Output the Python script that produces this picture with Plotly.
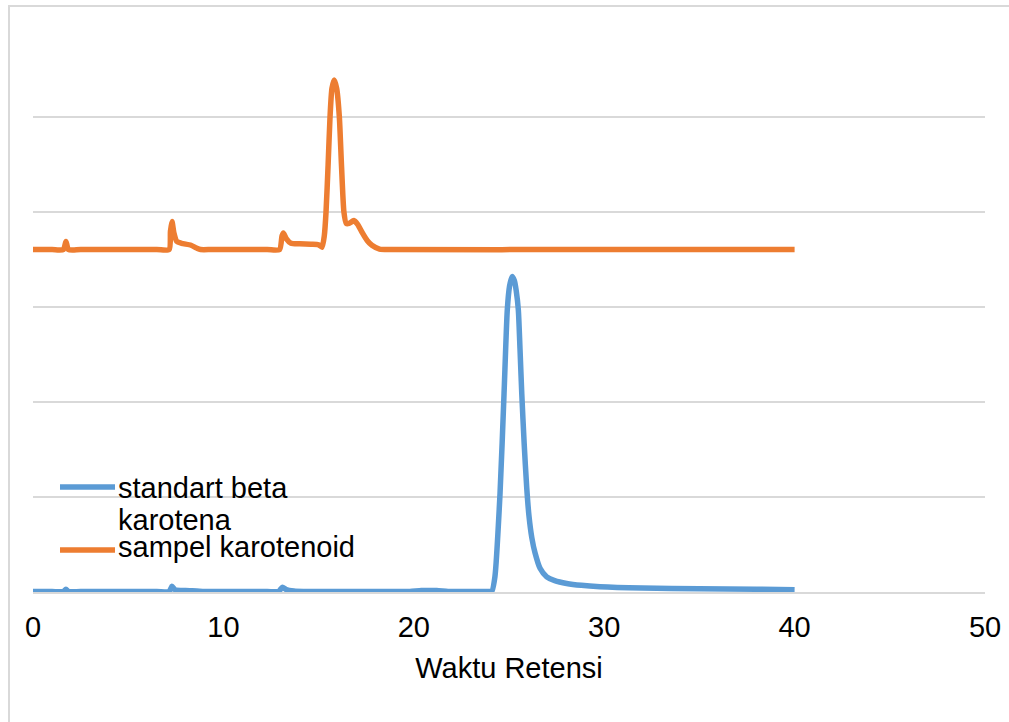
import plotly.graph_objects as go

# Retention time (minutes) and detector response (relative units)
t_std = [0, 1.0, 1.6, 1.73, 1.86, 2.5, 6.5, 7.15, 7.3, 7.45, 8.0, 8.6, 9.0, 9.6, 12.3, 12.9,
         13.1, 13.3, 13.7, 14.2, 14.8, 19.2, 19.8, 20.4, 21.2, 21.8, 22.4, 23.5, 24.0, 24.09,
         24.26, 24.53, 24.74, 24.91, 25.03, 25.16, 25.28, 25.38, 25.49, 25.58, 25.67, 25.8,
         25.93, 26.05, 26.2, 26.37, 26.63, 26.98, 27.4, 28.03, 28.8, 29.78, 32.0, 35.0, 38.0,
         40.0]
v_std = [0.005, 0.005, 0.005, 0.03, 0.005, 0.005, 0.005, 0.005, 0.06, 0.025, 0.015, 0.01,
         0.005, 0.005, 0.005, 0.005, 0.05, 0.025, 0.01, 0.005, 0.005, 0.005, 0.005, 0.015,
         0.015, 0.005, 0.005, 0.005, 0.005, 0.005, 0.16, 1.04, 2.09, 2.97, 3.22, 3.32, 3.28,
         3.17, 2.97, 2.55, 2.09, 1.55, 1.1, 0.8, 0.57, 0.41, 0.25, 0.16, 0.12, 0.09, 0.07,
         0.056, 0.042, 0.035, 0.03, 0.025]

t_smp = [0, 1.0, 1.6, 1.73, 1.86, 2.5, 6.5, 7.15, 7.22, 7.3, 7.4, 7.55, 7.8, 8.3, 8.6, 8.8,
         9.4, 12.3, 12.95, 13.08, 13.15, 13.3, 13.55, 14.0, 14.6, 15.0, 15.18, 15.3, 15.39,
         15.5, 15.6, 15.7, 15.82, 15.95, 16.09, 16.2, 16.33, 16.45, 16.6, 16.85, 17.05, 17.3,
         17.55, 17.8, 18.2, 18.8, 30.0, 40.0]
v_smp = [3.605, 3.605, 3.605, 3.69, 3.605, 3.605, 3.605, 3.605, 3.8, 3.9, 3.78, 3.69, 3.67,
         3.65, 3.62, 3.605, 3.605, 3.605, 3.605, 3.75, 3.78, 3.72, 3.67, 3.665, 3.66, 3.655,
         3.63, 3.75, 4.0, 4.5, 5.0, 5.3, 5.39, 5.3, 5.0, 4.5, 4.0, 3.88, 3.88, 3.91, 3.87,
         3.78, 3.7, 3.65, 3.61, 3.605, 3.605, 3.605]

series_names = ["standart beta<br>karotena", "sampel karotenoid"]
colors = ["#5B9BD5", "#ED7D31"]
x_ticks = [0, 10, 20, 30, 40, 50]

FONT = "Liberation Sans, Arial, sans-serif"
FS = 29
LW = 5.5

fig = go.Figure()
fig.add_trace(go.Scatter(x=t_std, y=v_std, mode="lines", name=series_names[0],
                         line=dict(color=colors[0], width=LW, shape="spline", smoothing=0.6),
                         showlegend=False))
fig.add_trace(go.Scatter(x=t_smp, y=v_smp, mode="lines", name=series_names[1],
                         line=dict(color=colors[1], width=LW, shape="spline", smoothing=0.6),
                         showlegend=False))

def px_x(px):
    return (px - 33) / 952.0

def px_y(py):
    return (592 - py) / 570.0

shapes = [
    # outer chart border
    dict(type="rect", xref="paper", yref="paper", x0=px_x(9), x1=1.2, y0=-0.5, y1=px_y(6),
         line=dict(color="#d9d9d9", width=2), fillcolor="rgba(0,0,0,0)", layer="below"),
    # legend lines
    dict(type="line", xref="paper", yref="paper", x0=px_x(60), x1=px_x(115),
         y0=px_y(487), y1=px_y(487), line=dict(color=colors[0], width=LW)),
    dict(type="line", xref="paper", yref="paper", x0=px_x(60), x1=px_x(115),
         y0=px_y(550), y1=px_y(550), line=dict(color=colors[1], width=LW)),
]
annotations = [
    dict(text="standart beta", x=px_x(116), y=px_y(488), xref="paper", yref="paper",
         xanchor="left", yanchor="middle", showarrow=False, font=dict(size=FS, color="#000")),
    dict(text="karotena", x=px_x(116), y=px_y(520), xref="paper", yref="paper",
         xanchor="left", yanchor="middle", showarrow=False, font=dict(size=FS, color="#000")),
    dict(text="sampel karotenoid", x=px_x(116), y=px_y(547), xref="paper", yref="paper",
         xanchor="left", yanchor="middle", showarrow=False, font=dict(size=FS, color="#000")),
]

fig.update_layout(
    width=1009, height=722,
    margin=dict(l=33, r=24, t=22, b=130),
    paper_bgcolor="white", plot_bgcolor="white",
    font=dict(family=FONT, size=FS, color="#000"),
    shapes=shapes, annotations=annotations,
    xaxis=dict(range=[0, 50], tickvals=x_ticks, ticktext=[str(v) for v in x_ticks],
               showgrid=False, zeroline=False, showline=True, linecolor="#d9d9d9",
               linewidth=2, ticks="", tickfont=dict(size=FS), ticklabelstandoff=8,
               automargin=False,
               title=dict(text="Waktu Retensi", font=dict(size=FS), standoff=16)),
    yaxis=dict(range=[0, 6], dtick=1, showticklabels=False, showgrid=True,
               gridcolor="#d9d9d9", gridwidth=2, zeroline=False, ticks="",
               automargin=False),
)

fig.write_html("out.html", config={"displayModeBar": False},
               post_script="document.body.style.margin='0';document.body.style.overflow='hidden';")
